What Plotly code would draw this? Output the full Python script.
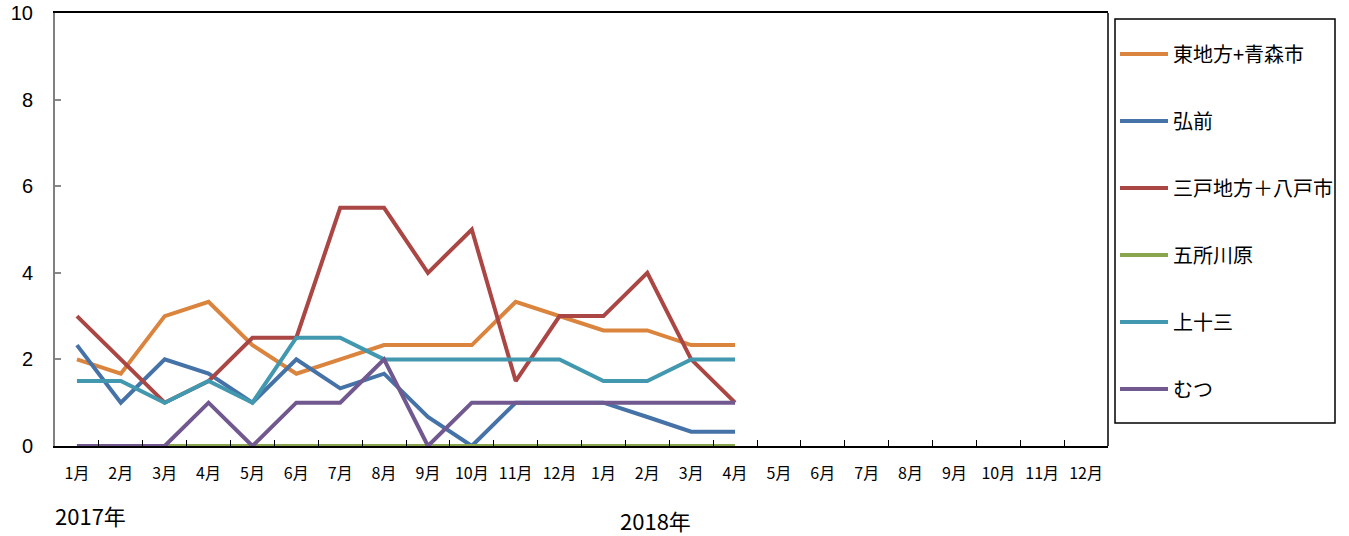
import plotly.graph_objects as go

months = ["1月", "2月", "3月", "4月", "5月", "6月", "7月", "8月", "9月", "10月", "11月", "12月",
          "1月", "2月", "3月", "4月", "5月", "6月", "7月", "8月", "9月", "10月", "11月", "12月"]
years = ["2017年", "2018年"]

higashi = [2.0, 1.67, 3.0, 3.33, 2.33, 1.67, 2.0, 2.33, 2.33, 2.33, 3.33, 3.0, 2.67, 2.67, 2.33, 2.33]
hirosaki = [2.33, 1.0, 2.0, 1.67, 1.0, 2.0, 1.33, 1.67, 0.67, 0.0, 1.0, 1.0, 1.0, 0.67, 0.33, 0.33]
sannohe = [3.0, 2.0, 1.0, 1.5, 2.5, 2.5, 5.5, 5.5, 4.0, 5.0, 1.5, 3.0, 3.0, 4.0, 2.0, 1.0]
goshogawara = [0, 0, 0, 0, 0, 0, 0, 0, 0, 0, 0, 0, 0, 0, 0, 0]
kamitosan = [1.5, 1.5, 1.0, 1.5, 1.0, 2.5, 2.5, 2.0, 2.0, 2.0, 2.0, 2.0, 1.5, 1.5, 2.0, 2.0]
mutsu = [0, 0, 0, 1, 0, 1, 1, 2, 0, 1, 1, 1, 1, 1, 1, 1]

series = [
    ("東地方+青森市", higashi, "#DB843D"),
    ("弘前", hirosaki, "#4572A7"),
    ("三戸地方＋八戸市", sannohe, "#AA4643"),
    ("五所川原", goshogawara, "#89A54E"),
    ("上十三", kamitosan, "#4198AF"),
    ("むつ", mutsu, "#71588F"),
]

FONT = "Noto Sans CJK JP"
PW, PH, L, T = 1053, 433, 55, 13


def px_x(x):
    return (x - L) / PW


def px_y(y):
    return (T + PH - y) / PH


fig = go.Figure()
for i, (name, vals, color) in enumerate(series):
    fig.add_trace(go.Scatter(
        x=list(range(len(vals))), y=vals, name=name, mode="lines",
        line=dict(color=color, width=4), legendgroup=f"g{i}",
    ))

fig.update_layout(
    width=1349, height=536,
    margin=dict(l=55, r=241, t=13, b=90, autoexpand=False),
    plot_bgcolor="white", paper_bgcolor="white",
    font=dict(family=FONT, color="black"),
    showlegend=True,
    legend=dict(
        x=px_x(1115), xanchor="left", y=px_y(34.5), yanchor="top",
        borderwidth=0, bgcolor="rgba(0,0,0,0)",
        font=dict(size=20, family=FONT, color="black"),
        tracegroupgap=38, itemwidth=48,
    ),
    xaxis=dict(
        range=[-0.5, 23.5], automargin=False,
        tickvals=list(range(len(months))), ticktext=months,
        ticks="", showgrid=False, zeroline=False,
        showline=True, linecolor="black", linewidth=1.5, mirror=True,
        tickfont=dict(size=16, family=FONT), ticklabelstandoff=12,
        minor=dict(ticks="inside", tickvals=[k + 0.5 for k in range(len(months) - 1)],
                   ticklen=6, tickcolor="black", tickwidth=1),
    ),
    yaxis=dict(
        range=[0, 10], tickvals=[0, 2, 4, 6, 8, 10], automargin=False,
        ticks="inside", ticklen=6, tickcolor="#888888", tickwidth=1.5,
        showgrid=False, zeroline=False, ticklabeloverflow="allow",
        showline=True, linecolor="#808080", linewidth=2,
        tickfont=dict(size=20, family="Liberation Sans"), ticklabelstandoff=16,
    ),
    shapes=[
        dict(type="line", xref="paper", yref="paper", x0=1, x1=1, y0=0, y1=1,
             line=dict(color="black", width=1.5)),
        dict(type="rect", xref="paper", yref="paper",
             x0=px_x(1115), x1=px_x(1335), y0=px_y(423), y1=px_y(19),
             line=dict(color="black", width=1.5), fillcolor="rgba(0,0,0,0)"),
    ],
    annotations=[
        dict(text=years[0], xref="paper", yref="paper", x=px_x(90), y=px_y(515),
             xanchor="center", yanchor="middle", showarrow=False, font=dict(size=22, family=FONT)),
        dict(text=years[1], xref="paper", yref="paper", x=px_x(655), y=px_y(520),
             xanchor="center", yanchor="middle", showarrow=False, font=dict(size=22, family=FONT)),
    ],
)

fig.write_html("out.html", config={"displayModeBar": False},
               post_script="document.body.style.margin='0px';")
